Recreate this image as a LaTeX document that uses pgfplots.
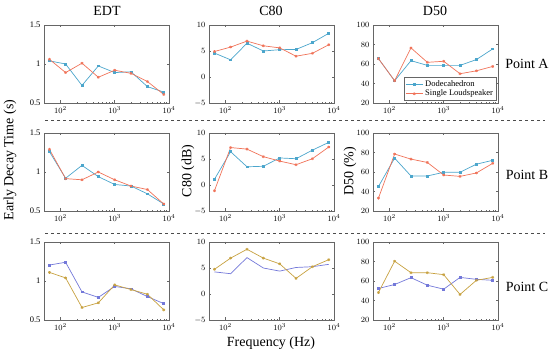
\documentclass[border=0pt]{standalone}
\usepackage{pgfplots}
\pgfplotsset{compat=1.18}
\usepackage{fontspec}
\setmainfont{Liberation Serif}
\definecolor{cblue}{rgb}{0.30,0.65,0.80}
\definecolor{cred}{rgb}{0.94,0.45,0.35}
\definecolor{cpurp}{rgb}{0.45,0.47,0.85}
\definecolor{cgold}{rgb}{0.78,0.63,0.25}
\pgfplotsset{
  every axis/.append style={
    xmode=log, scale only axis, width=125pt, height=78pt,
    xmin=50, xmax=10000, xtick={100,1000,10000},
    anchor=south west,
    axis line style={black!60}, every tick/.style={black!60},
    major tick length=2.5pt, minor tick length=1.3pt,
    tick label style={font=\fontsize{8.5}{10}\selectfont},
  },
  myedt/.style={ymin=0.5, ymax=1.5, ytick={0.5,1,1.5}, yticklabels={0.5,1,1.5}},
  myc/.style={ymin=-5, ymax=10, ytick={-5,0,5,10}},
  myd/.style={ymin=20, ymax=100, ytick={20,40,60,80,100}},
}
\tikzset{
  sa/.style={color=cblue, mark=square*, mark size=0.9pt, line width=0.7pt},
  sb/.style={color=cred, mark=asterisk, mark size=1.4pt, line width=0.7pt},
  sc/.style={color=cpurp, mark=square*, mark size=0.9pt, line width=0.7pt},
  sd/.style={color=cgold, mark=asterisk, mark size=1.4pt, line width=0.7pt},
}
\begin{document}
\begin{tikzpicture}[x=1pt,y=1pt]
\useasboundingbox (0,0) rectangle (550,358);
% ---------------- Row 1 (Point A)
\begin{axis}[myedt, at={(44pt,255pt)}]
\addplot[sa] coordinates {(63,1.04)(125,1.00)(250,0.725)(500,0.975)(1000,0.89)(2000,0.90)(4000,0.71)(8000,0.64)};
\addplot[sb] coordinates {(63,1.06)(125,0.89)(250,1.01)(500,0.83)(1000,0.92)(2000,0.88)(4000,0.775)(8000,0.61)};
\end{axis}
\begin{axis}[myc, at={(209pt,255pt)}]
\addplot[sa] coordinates {(63,4.6)(125,3.3)(250,6.5)(500,5.0)(1000,5.25)(2000,5.3)(4000,6.6)(8000,8.4)};
\addplot[sb] coordinates {(63,4.9)(125,5.75)(250,6.9)(500,6.0)(1000,5.6)(2000,4.0)(4000,4.55)(8000,6.2)};
\end{axis}
\begin{axis}[myd, at={(373pt,255pt)},
  legend style={at={(0.985,0.03)}, anchor=south east, font=\fontsize{8.5}{10}\selectfont,
    inner sep=1pt, row sep=-2pt, draw=black!60},
  legend cell align=left]
\addplot[sa] coordinates {(63,65.5)(125,42.8)(250,63.4)(500,58.6)(1000,58.6)(2000,58.6)(4000,64.5)(8000,75.5)};
\addplot[sb] coordinates {(63,65.5)(125,42.8)(250,76.5)(500,61.7)(1000,62.8)(2000,50)(4000,53)(8000,57.5)};
\legend{Dodecahedron, Single Loudspeaker}
\end{axis}
% ---------------- Row 2 (Point B)
\begin{axis}[myedt, at={(44pt,147pt)}]
\addplot[sa] coordinates {(63,1.26)(125,0.92)(250,1.085)(500,0.94)(1000,0.84)(2000,0.82)(4000,0.72)(8000,0.59)};
\addplot[sb] coordinates {(63,1.29)(125,0.915)(250,0.90)(500,1.0)(1000,0.90)(2000,0.82)(4000,0.775)(8000,0.59)};
\end{axis}
\begin{axis}[myc, at={(209pt,147pt)}]
\addplot[sa] coordinates {(63,1.1)(125,6.4)(250,3.5)(500,3.6)(1000,5.2)(2000,5.05)(4000,6.7)(8000,8.2)};
\addplot[sb] coordinates {(63,-1.1)(125,7.2)(250,6.9)(500,5.45)(1000,4.6)(2000,3.9)(4000,5.05)(8000,7.3)};
\end{axis}
\begin{axis}[myd, at={(373pt,147pt)}]
\addplot[sa] coordinates {(63,45.1)(125,74.2)(250,55.9)(500,55.9)(1000,59.7)(2000,59.7)(4000,68)(8000,72)};
\addplot[sb] coordinates {(63,33.2)(125,78.4)(250,73.2)(500,69.8)(1000,56.9)(2000,55.5)(4000,59)(8000,68.9)};
\end{axis}
% ---------------- Row 3 (Point C)
\begin{axis}[myedt, at={(44pt,38pt)}]
\addplot[sc] coordinates {(63,1.205)(125,1.24)(250,0.86)(500,0.79)(1000,0.93)(2000,0.90)(4000,0.80)(8000,0.71)};
\addplot[sd] coordinates {(63,1.11)(125,1.04)(250,0.66)(500,0.72)(1000,0.95)(2000,0.89)(4000,0.83)(8000,0.63)};
\end{axis}
\begin{axis}[myc, at={(209pt,38pt)}]
\addplot[sc, mark=none] coordinates {(63,4.25)(125,3.9)(250,7.0)(500,5.0)(1000,4.4)(2000,5.1)(4000,5.25)(8000,5.7)};
\addplot[sd] coordinates {(63,4.75)(125,6.9)(250,8.6)(500,6.9)(1000,5.8)(2000,3.0)(4000,5.25)(8000,6.6)};
\end{axis}
\begin{axis}[myd, at={(373pt,38pt)}]
\addplot[sc] coordinates {(63,52.3)(125,56.4)(250,63.4)(500,55.7)(1000,51.6)(2000,63.7)(4000,61.7)(8000,60.7)};
\addplot[sd] coordinates {(63,48.2)(125,80.3)(250,68.5)(500,68.5)(1000,66.5)(2000,46.2)(4000,60.7)(8000,63.7)};
\end{axis}
% ---------------- Titles and labels
\node[font=\fontsize{14}{16}\selectfont] at (107,347) {EDT};
\node[font=\fontsize{14}{16}\selectfont] at (271,347) {C80};
\node[font=\fontsize{14}{16}\selectfont] at (435,347) {D50};
\node[font=\fontsize{14}{16}\selectfont] at (527,294) {Point A};
\node[font=\fontsize{14}{16}\selectfont] at (527,183) {Point B};
\node[font=\fontsize{14}{16}\selectfont] at (527,71) {Point C};
\node[font=\fontsize{14}{16}\selectfont, rotate=90] at (10,198) {Early Decay Time (s)};
\node[font=\fontsize{14}{16}\selectfont, rotate=90] at (188,187) {C80 (dB)};
\node[font=\fontsize{14}{16}\selectfont, rotate=90] at (350,187) {D50 (\%)};
\node[font=\fontsize{14}{16}\selectfont] at (271,15) {Frequency (Hz)};
\draw[dashed, black!70, line width=0.5pt] (45,238) -- (545,238);
\draw[dashed, black!70, line width=0.5pt] (45,125) -- (545,125);
\end{tikzpicture}
\end{document}
